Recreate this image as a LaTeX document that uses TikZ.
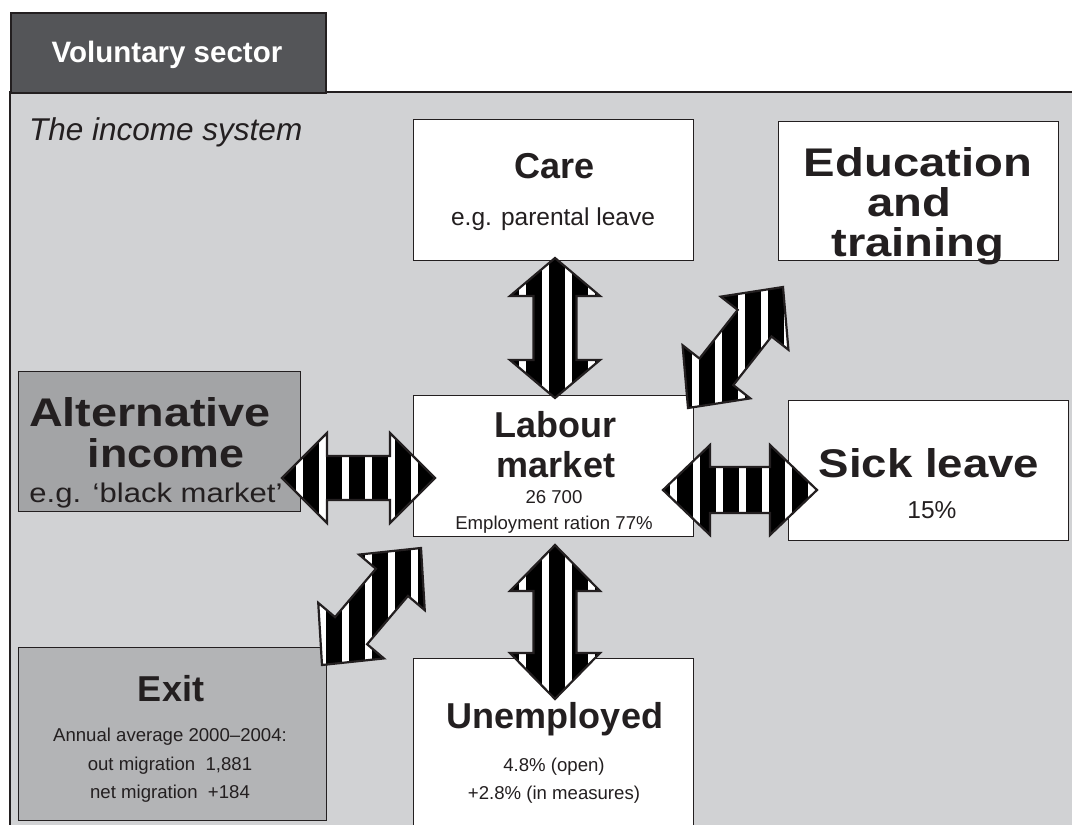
\documentclass[tikz,border=0pt]{standalone}
\usepackage{fontspec}
\usepackage{graphicx}
\setmainfont{Liberation Sans}
\usetikzlibrary{calc}
\definecolor{panel}{RGB}{209,210,212}
\definecolor{tabc}{RGB}{84,85,88}
\definecolor{altc}{RGB}{163,164,166}
\definecolor{exitc}{RGB}{179,180,182}
\definecolor{ink}{RGB}{35,31,32}
% #1,#2 tips; #3 shaft half width; #4 head half width; #5 head length; #6 stripe phase
\newcommand{\blockarrow}[6]{%
  \path ($(#1)!#5!(#2)$) coordinate (ha) ($(#2)!#5!(#1)$) coordinate (hb);
  \def\apath{(#1) -- ($(ha)!#4!90:(#2)$) -- ($(ha)!#3!90:(#2)$) -- ($(hb)!#3!-90:(#1)$) -- ($(hb)!#4!-90:(#1)$) -- (#2) -- ($(hb)!#4!90:(#1)$) -- ($(hb)!#3!90:(#1)$) -- ($(ha)!#3!-90:(#2)$) -- ($(ha)!#4!-90:(#2)$) -- cycle}%
  \begin{scope}
    \clip \apath;
    \fill[black] (0,0) rectangle (1072,825);
    \foreach \xx in {0,23,...,1081} \fill[white] ({\xx+#6},0) rectangle ++(7,825);
  \end{scope}
  \draw[ink, line width=2.2pt, line join=miter] \apath;
}
\newcommand{\wide}[2]{\scalebox{#1}[1]{#2}}
\tikzset{
  box/.style={draw=ink, line width=1.3pt, fill=white, anchor=north west, inner sep=0pt},
  title/.style={font=\fontsize{36}{36}\selectfont\bfseries, text=ink, anchor=base, inner sep=0pt},
  big/.style={font=\fontsize{40}{40}\selectfont\bfseries, text=ink, anchor=base, inner sep=0pt},
  sub/.style={font=\fontsize{24.5}{24.5}\selectfont, text=ink, anchor=base, inner sep=0pt},
  small/.style={font=\fontsize{18.6}{18.6}\selectfont, text=ink, anchor=base, inner sep=0pt},
}
\begin{document}
\begin{tikzpicture}[x=1pt,y=-1pt]
\useasboundingbox (0,0) rectangle (1072,825);
\clip (0,0) rectangle (1072,825);
\fill[white] (0,0) rectangle (1072,825);
% panel
\fill[panel] (10,92) rectangle (1080,830);
\draw[ink, line width=1.5pt] (1080,92) -- (10,92) -- (10,830);
% tab
\node[box, fill=tabc, line width=1.5pt, minimum width=315pt, minimum height=80pt] (tab) at (10,12) {};
\node[font=\fontsize{29.5}{29.5}\selectfont\bfseries, text=white, anchor=base, inner sep=0pt] (tabtxt) at (167,62) {Voluntary sector};
\node[font=\fontsize{31.5}{31.5}\selectfont\itshape, text=ink, anchor=base west, inner sep=0pt] (sys) at (29,140) {The income system};
% boxes
\node[box, minimum width=280pt, minimum height=141pt] (care) at (413,119) {};
\node[box, minimum width=280pt, minimum height=139pt] (edu) at (778,121) {};
\node[box, minimum width=280pt, minimum height=141pt] (lab) at (413,395) {};
\node[box, minimum width=280pt, minimum height=140pt] (sick) at (788,400) {};
\node[box, fill=altc, minimum width=282pt, minimum height=140pt] (alt) at (18,371) {};
\node[box, fill=exitc, minimum width=308pt, minimum height=173pt] (exit) at (18,647) {};
\node[box, minimum width=280pt, minimum height=200pt] (unemp) at (413,658) {};
% texts
\node[title] (t1) at (555,178) {Care};
\node[sub] (t2) at (553,225) {e.g. parental leave};
\node[big] (t3) at (918,176) {\wide{1.18}{Education}};
\node[big] (t4) at (909,216) {\wide{1.18}{and}};
\node[big] (t5) at (918,256) {\wide{1.18}{training}};
\node[title] (t6) at (555,437) {Labour};
\node[title] (t7) at (556,477) {market};
\node[small] (t8) at (554,503) {26 700};
\node[small] (t9) at (554,529) {Employment ration 77\%};
\node[big] (t10) at (150,426) {\wide{1.17}{Alternative}};
\node[big] (t11) at (166,467) {\wide{1.12}{income}};
\node[sub] (t12) at (156,502) {\wide{1.15}{\fontsize{27}{27}\selectfont e.g. ‘black market’}};
\node[big] (t13) at (929,477) {\wide{1.14}{Sick leave}};
\node[sub] (t14) at (932,518) {15\%};
\node[title] (t15) at (171,701) {Exit};
\node[small] (t16) at (170,741) {Annual average 2000–2004:};
\node[small] (t17) at (170,770) {out migration\ \ 1,881};
\node[small] (t18) at (170,798) {net migration\ \ +184};
\node[title] (t19) at (555,728) {Unemployed};
\node[small] (t20) at (554,771) {4.8\% (open)};
\node[small] (t21) at (554,799) {+2.8\% (in measures)};
% arrow end points
\coordinate (a1) at (555,258); \coordinate (b1) at (555,398);
\coordinate (a2) at (555,545); \coordinate (b2) at (555,699);
\coordinate (a3) at (282,478); \coordinate (b3) at (435,478);
\coordinate (a4) at (663,490); \coordinate (b4) at (817,490);
\coordinate (a5) at (688,408); \coordinate (b5) at (783,287);
\coordinate (a6) at (322,665); \coordinate (b6) at (421,548);
\blockarrow{a1}{b1}{21.5pt}{45pt}{38pt}{13}
\blockarrow{a2}{b2}{21.5pt}{45pt}{46pt}{13}
\blockarrow{a3}{b3}{22pt}{45pt}{45pt}{20}
\blockarrow{a4}{b4}{23pt}{45pt}{47pt}{3}
\blockarrow{a5}{b5}{21.5pt}{43pt}{46pt}{2}
\blockarrow{a6}{b6}{21pt}{43pt}{45pt}{20}
\end{tikzpicture}
\end{document}
